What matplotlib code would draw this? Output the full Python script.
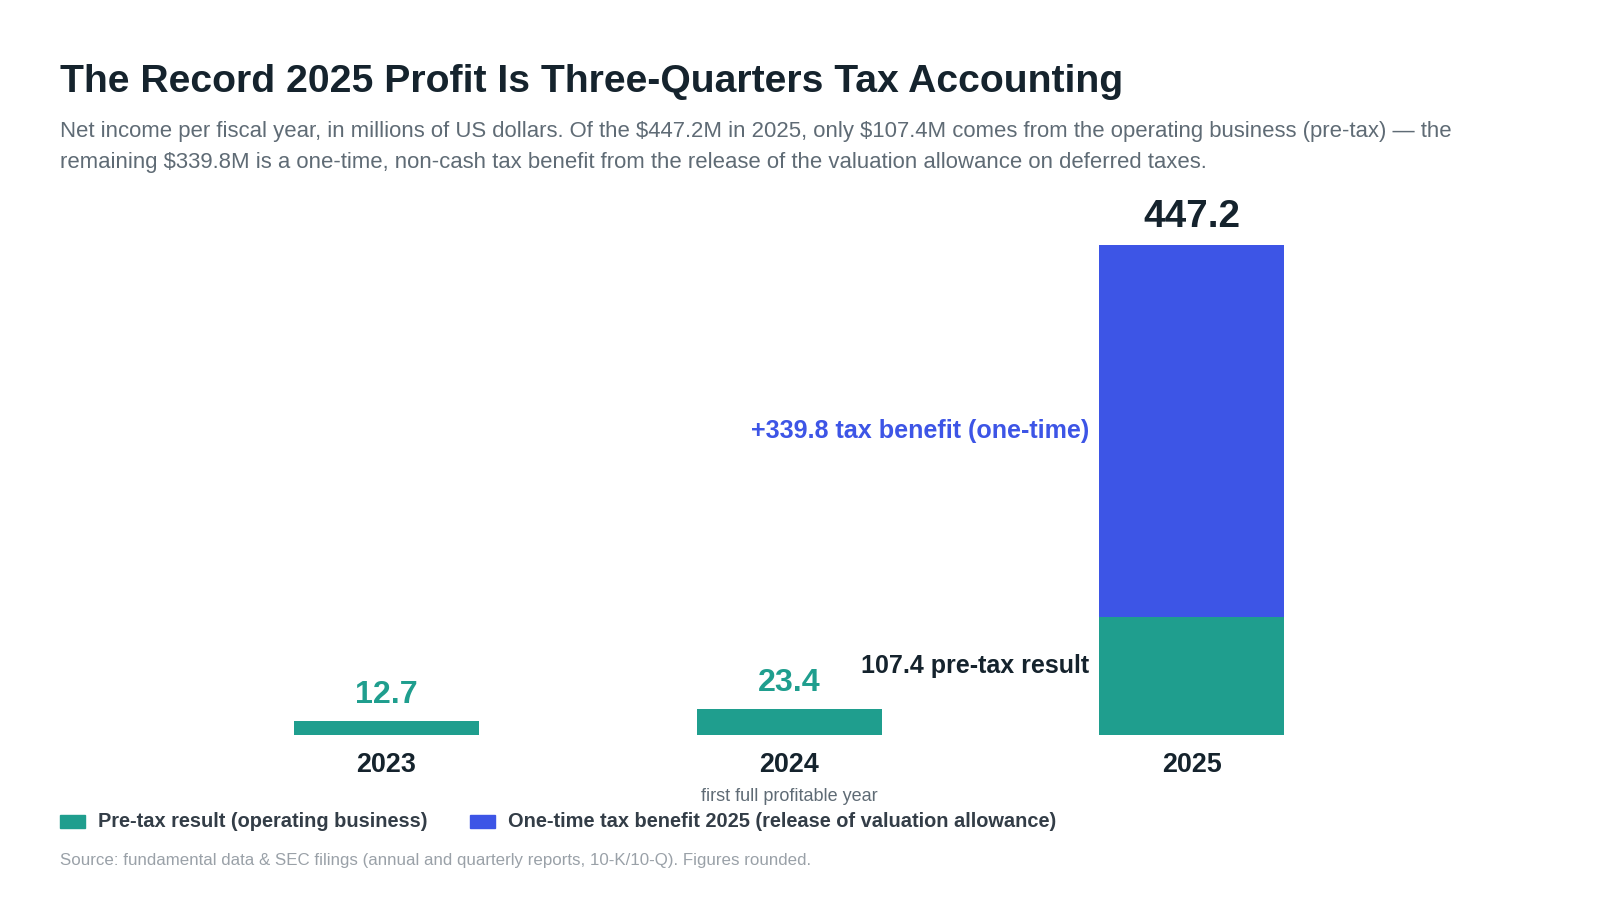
import matplotlib.pyplot as plt
from matplotlib.patches import Rectangle

plt.rcParams['font.family'] = ['Liberation Sans', 'DejaVu Sans']

# data
years = ["2023", "2024", "2025"]
pretax = [12.7, 23.4, 107.4]
tax_benefit = [0, 0, 339.8]
totals = [12.7, 23.4, 447.2]
year_notes = ["", "first full profitable year", ""]

TEAL = "#1f9e8e"
BLUE = "#3d55e6"
DARK = "#15232d"
GRAY = "#5f6b75"
LIGHT = "#9aa1a8"

W, H = 1600, 900
fig = plt.figure(figsize=(16, 9), dpi=100)

# axes placed in pixel space: baseline at y=735, 2025 top at y=245
ax_left, ax_right = 60, 1520
ax_bottom, ax_top = 735, 200
ax = fig.add_axes([ax_left / W, 1 - ax_bottom / H, (ax_right - ax_left) / W, (ax_bottom - ax_top) / H])

c0, step = 386.4, 402.6
ax.set_xlim((ax_left - c0) / step, (ax_right - c0) / step)
px_per_unit = 490 / 447.2
ax.set_ylim(0, (ax_bottom - ax_top) / px_per_unit)
ax.axis("off")

x = list(range(len(years)))
bw = 185 / step
ax.bar(x, pretax, width=bw, color=TEAL, linewidth=0)
ax.bar(x, tax_benefit, width=bw, bottom=pretax, color=BLUE, linewidth=0)

# value labels
for i, (t, tb) in enumerate(zip(totals, tax_benefit)):
    if tb > 0:
        ax.annotate(f"{t:.1f}", (i, t), xytext=(0, 7), textcoords="offset points",
                    ha="center", va="bottom", fontsize=27.8, fontweight="bold", color=DARK)
    else:
        ax.annotate(f"{t:.1f}", (i, t), xytext=(0, 8), textcoords="offset points",
                    ha="center", va="bottom", fontsize=23.2, fontweight="bold", color=TEAL)

# side annotations for 2025
i25 = 2
ax.annotate(f"+{tax_benefit[i25]:.1f} tax benefit (one-time)", (i25 - bw / 2, pretax[i25] + tax_benefit[i25] / 2),
            xytext=(-7, 0), textcoords="offset points", ha="right", va="center",
            fontsize=18.1, fontweight="bold", color=BLUE)
ax.annotate(f"{pretax[i25]:.1f} pre-tax result", (i25 - bw / 2, pretax[i25] / 2),
            xytext=(-7, 7), textcoords="offset points", ha="right", va="center",
            fontsize=18.0, fontweight="bold", color=DARK)

# year labels
for i, (y, note) in enumerate(zip(years, year_notes)):
    ax.annotate(y, (i, 0), xytext=(0, -12), textcoords="offset points",
                ha="center", va="top", fontsize=19.4, fontweight="bold", color=DARK,
                annotation_clip=False)
    if note:
        ax.annotate(note, (i, 0), xytext=(0, -38), textcoords="offset points",
                    ha="center", va="top", fontsize=13, color=GRAY, annotation_clip=False)

# title and subtitle
fig.text(60 / W, 1 - 92 / H, "The Record 2025 Profit Is Three-Quarters Tax Accounting",
         fontsize=28.2, fontweight="bold", color=DARK, ha="left", va="baseline")
fig.text(60 / W, 1 - 137 / H,
         "Net income per fiscal year, in millions of US dollars. Of the \\$447.2M in 2025, only \\$107.4M comes from the operating business (pre-tax) \u2014 the",
         fontsize=15.9, color=GRAY, ha="left", va="baseline")
fig.text(60 / W, 1 - 168 / H,
         "remaining \\$339.8M is a one-time, non-cash tax benefit from the release of the valuation allowance on deferred taxes.",
         fontsize=15.9, color=GRAY, ha="left", va="baseline")

# legend
legend_items = [("Pre-tax result (operating business)", TEAL, 60),
                ("One-time tax benefit 2025 (release of valuation allowance)", BLUE, 470)]
for label, col, lx in legend_items:
    fig.patches.append(Rectangle((lx / W, 1 - 828 / H), 25 / W, 13 / H, color=col,
                                 transform=fig.transFigure, figure=fig))
    fig.text((lx + 38) / W, 1 - 821.5 / H, label, fontsize=14.4, fontweight="bold",
             color="#333d47", ha="left", va="center")

fig.text(60 / W, 1 - 860 / H,
         "Source: fundamental data & SEC filings (annual and quarterly reports, 10-K/10-Q). Figures rounded.",
         fontsize=12.2, color=LIGHT, ha="left", va="center")

fig.savefig("out.png", dpi=100, facecolor="white")
